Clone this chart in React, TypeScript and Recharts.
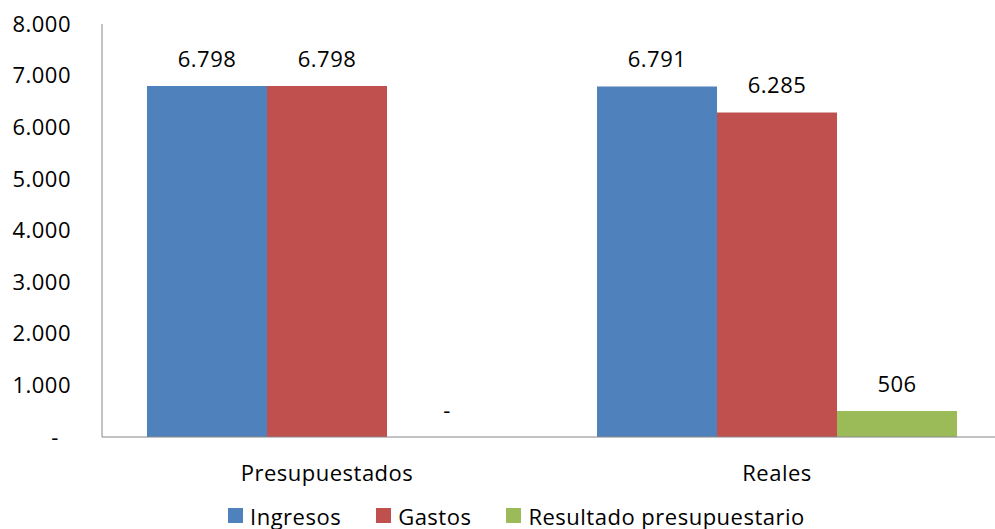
import { BarChart, Bar, XAxis, YAxis, Legend, LabelList } from 'recharts';

const categories = ['Presupuestados', 'Reales'];
const ingresos = [6798, 6791];
const gastos = [6798, 6285];
const resultado = [0, 506];
const yTicks = [0, 1000, 2000, 3000, 4000, 5000, 6000, 7000, 8000];

const series = [
  { key: 'ingresos', name: 'Ingresos', color: '#4F81BD' },
  { key: 'gastos', name: 'Gastos', color: '#C0504D' },
  { key: 'resultado', name: 'Resultado presupuestario', color: '#9BBB59' },
];

const data = categories.map((name, i) => ({
  name,
  ingresos: ingresos[i],
  gastos: gastos[i],
  resultado: resultado[i],
}));

const FONT = '"Open Sans", sans-serif';
const SPACING = 0.5;

// excel style: 6.798, zero shown as "-"
const fmt = (v: number) =>
  v === 0 ? '-' : String(Math.round(v)).replace(/\B(?=(\d{3})+(?!\d))/g, '.');

function YTick(props: any) {
  const { y, payload } = props;
  const zero = payload.value === 0;
  return (
    <text
      x={zero ? 55 : 71}
      y={y}
      dy="0.35em"
      textAnchor={zero ? 'middle' : 'end'}
      fill="#000"
      fontSize={22}
      fontFamily={FONT}
      letterSpacing={SPACING}
    >
      {fmt(payload.value)}
    </text>
  );
}

function XTick(props: any) {
  const { x, y, payload } = props;
  return (
    <text x={x} y={y} dy="0.35em" textAnchor="middle" fill="#000" fontSize={22} fontFamily={FONT} letterSpacing={SPACING}>
      {payload.value}
    </text>
  );
}

// draws the value above the bar, also for zero-height bars
function BarLabel(props: any) {
  const { x, y, width, height, value } = props;
  if (x == null) return null;
  const top = Number(height) < 1 ? Number(y) + Number(height) : Number(y);
  return (
    <text
      x={Number(x) + Number(width) / 2}
      y={top - 27}
      textAnchor="middle"
      dy="0.35em"
      fill="#000"
      fontSize={22}
      fontFamily={FONT}
      letterSpacing={SPACING}
    >
      {fmt(Number(value))}
    </text>
  );
}

function LegendBox() {
  return (
    <div
      style={{
        display: 'flex',
        justifyContent: 'flex-start',
        alignItems: 'center',
        height: 42,
        paddingLeft: 228,
        fontFamily: FONT,
        fontSize: 22,
        letterSpacing: SPACING,
        color: '#000',
      }}
    >
      {series.map((s) => (
        <div key={s.key} style={{ display: 'flex', alignItems: 'center', marginRight: 35, marginTop: 15 }}>
          <span style={{ width: 15, height: 15, background: s.color, display: 'inline-block', marginRight: 7 }} />
          <span>{s.name}</span>
        </div>
      ))}
    </div>
  );
}

export default function App() {
  return (
    <div style={{ position: 'absolute', top: 0, left: 0, width: 995, height: 529, overflow: 'hidden', background: '#fff' }}>
      <BarChart
        width={1010}
        height={529}
        data={data}
        margin={{ top: 24, right: 8, bottom: 0, left: 0 }}
        barCategoryGap="10%"
        barGap={0}
      >
        <XAxis
          dataKey="name"
          height={50}
          tickLine={false}
          tickSize={0}
          tickMargin={36}
          stroke="#868686"
          tick={<XTick />}
        />
        <YAxis
          width={102}
          domain={[0, 8000]}
          ticks={yTicks}
          tickLine={false}
          stroke="#868686"
          tick={<YTick />}
          interval={0}
        />
        <Legend verticalAlign="bottom" height={42} content={<LegendBox />} />
        {series.map((s) => (
          <Bar
            key={s.key}
            dataKey={s.key}
            name={s.name}
            fill={s.color}
            minPointSize={0.01}
            isAnimationActive={false}
          >
            <LabelList dataKey={s.key} content={<BarLabel />} />
          </Bar>
        ))}
      </BarChart>
    </div>
  );
}
